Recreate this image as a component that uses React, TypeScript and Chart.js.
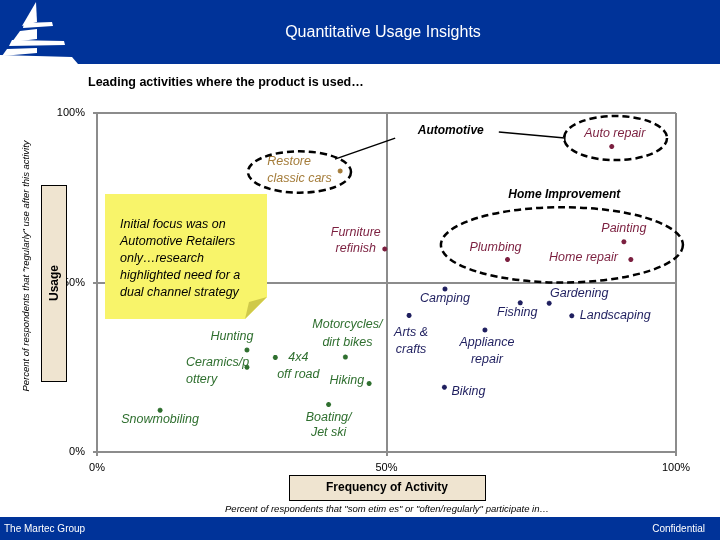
import React, { useEffect, useRef } from "react";
import { Chart, registerables } from "chart.js";
Chart.register(...registerables);

// ---------- DATA ----------
const automotiveActivities = ["Restore classic cars", "Auto repair"];
const automotiveFrequency = [42.0, 88.9];
const automotiveUsage = [82.9, 90.1];

const homeActivities = ["Furniture refinish", "Plumbing", "Painting", "Home repair"];
const homeFrequency = [49.7, 70.9, 91.0, 92.2];
const homeUsage = [59.9, 56.8, 62.0, 56.8];

const leisureActivities = ["Camping", "Fishing", "Gardening", "Landscaping", "Arts & crafts", "Appliance repair", "Biking"];
const leisureFrequency = [60.1, 73.1, 78.1, 82.0, 53.9, 67.0, 60.0];
const leisureUsage = [48.1, 44.0, 43.9, 40.2, 40.3, 36.0, 19.1];

const outdoorActivities = ["Hunting", "Ceramics/pottery", "4x4 off road", "Motorcycles/dirt bikes", "Hiking", "Boating/Jet ski", "Snowmobiling"];
const outdoorFrequency = [25.9, 25.9, 30.8, 42.9, 47.0, 40.0, 10.9];
const outdoorUsage = [30.1, 25.0, 27.9, 28.0, 20.2, 14.0, 12.3];

const tickValues = [0, 50, 100];
const tickSuffix = "%";

// ---------- LAYOUT / STYLE ----------
const FONT = "'Liberation Sans', Arial, sans-serif";
const NAVY = "#003399";
const MAROON = "#7b1f3f";
const BROWN = "#a47c3a";
const GREEN = "#2f6f2f";
const DARKBLUE = "#1f1f5f";
const GRID = "#8c8c8c";
const BEIGE = "#efe4d0";

type LabelSpec = { lines: string[]; dx: number; dy: number; align: CanvasTextAlign; lh?: number };
const labelLayout: Record<string, LabelSpec> = {
  "Restore classic cars": { lines: ["Restore", "classic cars"], dx: -73, dy: -9, align: "left", lh: 17 },
  "Auto repair": { lines: ["Auto repair"], dx: 3, dy: -13, align: "center" },
  "Furniture refinish": { lines: ["Furniture", "refinish"], dx: -29, dy: -16, align: "center", lh: 16 },
  Plumbing: { lines: ["Plumbing"], dx: -12, dy: -12, align: "center" },
  Painting: { lines: ["Painting"], dx: 0, dy: -13, align: "center" },
  "Home repair": { lines: ["Home repair"], dx: -13, dy: -2, align: "right" },
  Camping: { lines: ["Camping"], dx: 0, dy: 10, align: "center" },
  Fishing: { lines: ["Fishing"], dx: -3, dy: 10, align: "center" },
  Gardening: { lines: ["Gardening"], dx: 30, dy: -10, align: "center" },
  Landscaping: { lines: ["Landscaping"], dx: 8, dy: 0, align: "left" },
  "Arts & crafts": { lines: ["Arts &", "crafts"], dx: 2, dy: 17, align: "center", lh: 17 },
  "Appliance repair": { lines: ["Appliance", "repair"], dx: 2, dy: 13, align: "center", lh: 17 },
  Biking: { lines: ["Biking"], dx: 7, dy: 4, align: "left" },
  Hunting: { lines: ["Hunting"], dx: -15, dy: -13, align: "center" },
  "Ceramics/pottery": { lines: ["Ceramics/p", "ottery"], dx: -61, dy: -5, align: "left", lh: 17 },
  "4x4 off road": { lines: ["4x4", "off road"], dx: 23, dy: 0, align: "center", lh: 17 },
  "Motorcycles/dirt bikes": { lines: ["Motorcycles/", "dirt bikes"], dx: 2, dy: -33, align: "center", lh: 18 },
  Hiking: { lines: ["Hiking"], dx: -5, dy: -3, align: "right" },
  "Boating/Jet ski": { lines: ["Boating/", "Jet ski"], dx: 0, dy: 13, align: "center", lh: 15 },
  Snowmobiling: { lines: ["Snowmobiling"], dx: 0, dy: 9, align: "center" },
};

// annotation shapes in data units (%)
const groupEllipses = [
  { cx: 34.97, cy: 82.6, rx: 8.9, ry: 6.1 },
  { cx: 89.55, cy: 92.6, rx: 8.9, ry: 6.5 },
  { cx: 80.3, cy: 61.1, rx: 20.9, ry: 11.1 },
];
const groupTitles = [
  { text: "Automotive", x: 61.1, y: 94.7 },
  { text: "Home Improvement", x: 80.7, y: 75.8 },
];
const connectors = [
  [41.1, 86.4, 51.5, 92.6],
  [69.4, 94.4, 80.8, 92.6],
];

const noteLines = [
  "Initial focus was on",
  "Automotive Retailers",
  "only…research",
  "highlighted need for a",
  "dual channel strategy",
];

function toXY(freq: number[], usage: number[]) {
  return freq.map((f, i) => ({ x: f, y: usage[i] }));
}

function poly(ctx: CanvasRenderingContext2D, pts: number[][]) {
  ctx.beginPath();
  ctx.moveTo(pts[0][0], pts[0][1]);
  for (let i = 1; i < pts.length; i++) ctx.lineTo(pts[i][0], pts[i][1]);
  ctx.closePath();
  ctx.fill();
}

const decorPlugin = {
  id: "decor",
  beforeDraw(chart: any) {
    const ctx = chart.ctx as CanvasRenderingContext2D;
    ctx.save();
    ctx.fillStyle = "#fff";
    ctx.fillRect(0, 0, chart.width, chart.height);
    // header
    ctx.fillStyle = NAVY;
    ctx.fillRect(0, 0, chart.width, 64);
    // logo (white sail)
    ctx.fillStyle = "#fff";
    poly(ctx, [[36, 2], [37, 22], [22, 26]]);
    poly(ctx, [[24, 23], [52, 22], [53, 26], [23, 28]]);
    poly(ctx, [[20, 31], [37, 29], [37, 39], [12, 42]]);
    poly(ctx, [[12, 40], [64, 41], [65, 45], [9, 46]]);
    poly(ctx, [[7, 49], [37, 48], [37, 53], [2, 56]]);
    poly(ctx, [[0, 55], [72, 57], [78, 64], [0, 64]]);

    ctx.fillStyle = "#fff";
    ctx.font = `16px ${FONT}`;
    ctx.textAlign = "center";
    ctx.textBaseline = "middle";
    ctx.fillText("Quantitative Usage Insights", 383, 33);

    // subtitle
    ctx.fillStyle = "#000";
    ctx.font = `bold 12.5px ${FONT}`;
    ctx.textAlign = "left";
    ctx.fillText("Leading activities where the product is used…", 88, 83);

    // footer
    ctx.fillStyle = NAVY;
    ctx.fillRect(0, 517, chart.width, 23);
    ctx.fillStyle = "#fff";
    ctx.font = `10px ${FONT}`;
    ctx.textAlign = "left";
    ctx.fillText("The Martec Group", 4, 529);
    ctx.textAlign = "right";
    ctx.fillText("Confidential", 705, 529);
    ctx.restore();
  },
  afterDraw(chart: any) {
    const ctx = chart.ctx as CanvasRenderingContext2D;
    const xs = chart.scales.x;
    const ys = chart.scales.y;
    const px = (v: number) => xs.getPixelForValue(v);
    const py = (v: number) => ys.getPixelForValue(v);
    ctx.save();

    // point labels
    ctx.font = `italic 12.5px ${FONT}`;
    ctx.textBaseline = "middle";
    chart.data.datasets.forEach((ds: any, di: number) => {
      const meta = chart.getDatasetMeta(di);
      ds.data.forEach((_: any, i: number) => {
        const name = ds.names[i];
        const spec = labelLayout[name];
        if (!spec) return;
        const el = meta.data[i];
        const color = Array.isArray(ds.labelColor) ? ds.labelColor[i] : ds.labelColor;
        ctx.fillStyle = color;
        ctx.textAlign = spec.align;
        spec.lines.forEach((ln, k) => {
          ctx.fillText(ln, el.x + spec.dx, el.y + spec.dy + k * (spec.lh || 17));
        });
      });
    });

    // ellipses
    ctx.strokeStyle = "#000";
    ctx.lineWidth = 2.5;
    ctx.setLineDash([7, 4]);
    groupEllipses.forEach((e) => {
      const cx = px(e.cx), cy = py(e.cy);
      const rx = Math.abs(px(e.cx + e.rx) - cx), ry = Math.abs(py(e.cy + e.ry) - cy);
      ctx.beginPath();
      ctx.ellipse(cx, cy, rx, ry, 0, 0, Math.PI * 2);
      ctx.stroke();
    });
    ctx.setLineDash([]);
    ctx.lineWidth = 1.5;
    connectors.forEach((c) => {
      ctx.beginPath();
      ctx.moveTo(px(c[0]), py(c[1]));
      ctx.lineTo(px(c[2]), py(c[3]));
      ctx.stroke();
    });
    const last = connectors[connectors.length - 1];
    ctx.beginPath();
    ctx.moveTo(px(last[2]), py(last[3]) - 4);
    ctx.lineTo(px(last[2]), py(last[3]) + 4);
    ctx.stroke();

    ctx.fillStyle = "#000";
    ctx.font = `italic bold 12px ${FONT}`;
    ctx.textAlign = "center";
    ctx.textBaseline = "middle";
    groupTitles.forEach((t) => ctx.fillText(t.text, px(t.x), py(t.y)));

    // note
    const L = chart.chartArea.left;
    const T = chart.chartArea.top;
    const nx = L + 8, ny = T + 81, nw = 162, nh = 125, f = 22;
    ctx.fillStyle = "#f8f46a";
    ctx.beginPath();
    ctx.moveTo(nx, ny);
    ctx.lineTo(nx + nw, ny);
    ctx.lineTo(nx + nw, ny + nh - f);
    ctx.lineTo(nx + nw - f, ny + nh);
    ctx.lineTo(nx, ny + nh);
    ctx.closePath();
    ctx.fill();
    ctx.fillStyle = "#cfc94a";
    ctx.beginPath();
    ctx.moveTo(nx + nw, ny + nh - f);
    ctx.lineTo(nx + nw - f, ny + nh);
    ctx.lineTo(nx + nw - f + 4, ny + nh - f + 5);
    ctx.closePath();
    ctx.fill();
    ctx.fillStyle = "#000";
    ctx.font = `italic 12.5px ${FONT}`;
    ctx.textAlign = "left";
    noteLines.forEach((ln, i) => ctx.fillText(ln, nx + 15, ny + 31 + i * 17));

    // usage box
    ctx.fillStyle = BEIGE;
    ctx.fillRect(41.5, 185.5, 25, 196);
    ctx.strokeStyle = "#000";
    ctx.lineWidth = 1;
    ctx.strokeRect(41.5, 185.5, 25, 196);
    ctx.save();
    ctx.translate(55, 283);
    ctx.rotate(-Math.PI / 2);
    ctx.fillStyle = "#000";
    ctx.font = `bold 12px ${FONT}`;
    ctx.textAlign = "center";
    ctx.fillText("Usage", 0, 0);
    ctx.restore();

    // y title
    ctx.save();
    ctx.translate(26, 266);
    ctx.rotate(-Math.PI / 2);
    ctx.fillStyle = "#000";
    ctx.font = `italic 9.5px ${FONT}`;
    ctx.textAlign = "center";
    ctx.fillText("Percent of respondents that \"regularly\" use after this activity", 0, 0);
    ctx.restore();

    // x title box
    ctx.fillStyle = BEIGE;
    ctx.fillRect(289.5, 475.5, 196, 25);
    ctx.strokeRect(289.5, 475.5, 196, 25);
    ctx.fillStyle = "#000";
    ctx.font = `bold 12px ${FONT}`;
    ctx.textAlign = "center";
    ctx.fillText("Frequency of Activity", 387, 488);
    ctx.font = `italic 9.5px ${FONT}`;
    ctx.fillText("Percent of respondents that \"som etim es\" or \"often/regularly\" participate in…", 387, 509);
    ctx.restore();
  },
};

export default function App() {
  const ref = useRef<HTMLCanvasElement | null>(null);
  useEffect(() => {
    if (!ref.current) return;
    const axisCommon = (isX: boolean) => ({
      type: "linear" as const,
      min: 0,
      max: 100,
      afterBuildTicks: (s: any) => {
        s.ticks = tickValues.map((v) => ({ value: v }));
      },
      afterFit: (s: any) => {
        if (isX) s.height = 88;
        else s.width = 97;
      },
      ticks: {
        stepSize: 50,
        callback: (v: any) => v + tickSuffix,
        font: { family: FONT, size: 11 },
        color: "#000",
        padding: isX ? 5 : 8,
        maxRotation: 0,
        autoSkip: false,
      },
      grid: { color: GRID, lineWidth: 2, tickLength: 4, drawTicks: true },
      border: { display: true, color: GRID, width: 2 },
    });
    const chart = new Chart(ref.current, {
      type: "scatter",
      data: {
        datasets: [
          {
            label: "Automotive",
            names: automotiveActivities,
            labelColor: [BROWN, MAROON],
            data: toXY(automotiveFrequency, automotiveUsage),
            pointBackgroundColor: [BROWN, MAROON],
            pointBorderColor: [BROWN, MAROON],
          },
          {
            label: "Home Improvement",
            names: homeActivities,
            labelColor: MAROON,
            data: toXY(homeFrequency, homeUsage),
            pointBackgroundColor: MAROON,
            pointBorderColor: MAROON,
          },
          {
            label: "Leisure",
            names: leisureActivities,
            labelColor: DARKBLUE,
            data: toXY(leisureFrequency, leisureUsage),
            pointBackgroundColor: DARKBLUE,
            pointBorderColor: DARKBLUE,
          },
          {
            label: "Outdoor",
            names: outdoorActivities,
            labelColor: GREEN,
            data: toXY(outdoorFrequency, outdoorUsage),
            pointBackgroundColor: GREEN,
            pointBorderColor: GREEN,
          },
        ] as any,
      },
      options: {
        animation: false,
        responsive: false,
        devicePixelRatio: 1,
        layout: { padding: { top: 113, right: 44, left: 0, bottom: 0 } },
        elements: { point: { pointStyle: "star", radius: 2.5, borderWidth: 1.5 } },
        plugins: { legend: { display: false }, tooltip: { enabled: false } },
        scales: { x: axisCommon(true), y: axisCommon(false) } as any,
      },
      plugins: [decorPlugin],
    });
    return () => chart.destroy();
  }, []);
  return (
    <div style={{ position: "absolute", left: 0, top: 0, width: 720, height: 540 }}>
      <canvas ref={ref} width={720} height={540} style={{ display: "block" }} />
    </div>
  );
}
